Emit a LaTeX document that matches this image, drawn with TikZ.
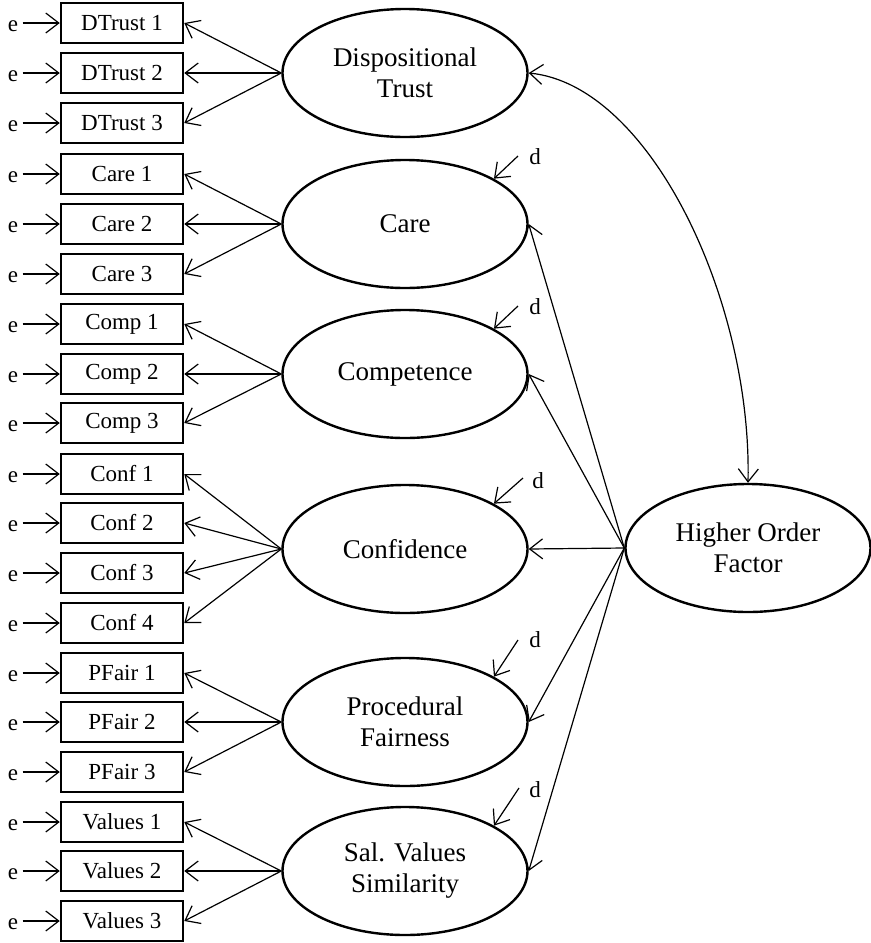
\documentclass[tikz,border=0pt]{standalone}
\usepackage{fontspec}
\setmainfont{Liberation Serif}
\usetikzlibrary{arrows.meta,shapes.geometric}
\begin{document}
\begin{tikzpicture}[x=0.5pt,y=-0.5pt,
  >={Straight Barb[length=6.5pt,width=10pt]},
  box/.style={draw,line width=1.25pt,minimum width=61pt,minimum height=20pt,inner sep=0pt,font=\fontsize{11.5}{13}\selectfont},
  lat/.style={draw,ellipse,line width=1.2pt,minimum width=122.5pt,minimum height=64pt,inner sep=0pt,align=center,font=\fontsize{13.5}{15.5}\selectfont},
  lab/.style={inner sep=2pt,font=\fontsize{11.5}{13}\selectfont},
  arr/.style={->,line width=0.6pt},
  darr/.style={<->,line width=0.6pt}
]
\useasboundingbox (0,0) rectangle (871,943);

% indicators with error terms
\foreach \n/\t/\y in {dtA/DTrust 1/23,dtB/DTrust 2/73,dtC/DTrust 3/123,
  caA/Care 1/174,caB/Care 2/224,caC/Care 3/274,
  coA/Comp 1/324,coB/Comp 2/374,coC/Comp 3/423,
  cfA/Conf 1/474,cfB/Conf 2/523,cfC/Conf 3/573,cfD/Conf 4/623,
  pfA/PFair 1/673,pfB/PFair 2/722,pfC/PFair 3/772,
  svA/Values 1/822,svB/Values 2/871,svC/Values 3/921}{
  \node[box] (\n) at (122,\y) {\t};
  \node[lab] (e\n) at (13,\y+3) {e};
  \draw[arr] (e\n.east |- \n.west) -- (\n.west);
}

% latent factors
\node[lat] (dt) at (405,73) {Dispositional\\Trust};
\node[lat] (care) at (405,224) {Care};
\node[lat] (comp) at (405,374) {Competence};
\node[lat] (conf) at (405,549) {Confidence};
\node[lat] (pf) at (405,722) {Procedural\\Fairness};
\node[lat] (sv) at (405,871) {Sal. Values\\Similarity};
\node[lat] (hof) at (748,548) {Higher Order\\Factor};

% loadings
\foreach \f/\l in {dt/dtA,dt/dtB,dt/dtC,care/caA,care/caB,care/caC,
  comp/coA,comp/coB,comp/coC,conf/cfA,conf/cfB,conf/cfC,conf/cfD,
  pf/pfA,pf/pfB,pf/pfC,sv/svA,sv/svB,sv/svC}{
  \draw[arr] (\f.west) -- (\l.east);
}

% higher order paths
\foreach \f in {care,comp,conf,pf,sv}{
  \draw[arr] (hof.west) -- (\f.east);
}

% covariance
\draw[darr] (dt.east) .. controls (650,85) and (752,300) .. (hof.north);

% disturbances
\coordinate (dsA) at (518,156);
\coordinate (dsB) at (518,306);
\coordinate (dsC) at (523,478);
\coordinate (dsD) at (518,640);
\coordinate (dsE) at (519,788);
\node[lab] (dA) at (535,157) {d};
\node[lab] (dB) at (535,307) {d};
\node[lab] (dC) at (538,481) {d};
\node[lab] (dD) at (535,640) {d};
\node[lab] (dE) at (535,790) {d};
\draw[arr] (dsA) -- (care.27);
\draw[arr] (dsB) -- (comp.27);
\draw[arr] (dsC) -- (conf.27);
\draw[arr] (dsD) -- (pf.27);
\draw[arr] (dsE) -- (sv.27);
\end{tikzpicture}
\end{document}
